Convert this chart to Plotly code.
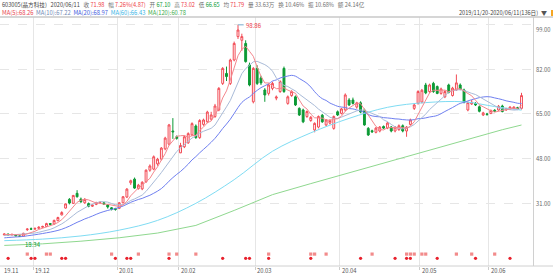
import plotly.graph_objects as go
import pandas as pd

# ---------------- data ----------------
opens = [19.0,19.3,19.0,19.1,18.6,18.5,21.0,21.3,21.2,21.5,21.9,22.2,23.3,23.1,24.4,26.6,29.2,32.5,31.0,34.8,
         32.6,31.2,30.9,29.9,30.6,31.2,31.2,30.4,29.3,29.0,
         29.1,31.2,33.4,38.8,40.2,36.6,36.5,39.2,43.6,44.0,46.0,47.8,51.7,53.5,58.5,56.3,
         50.2,52.5,54.0,57.0,60.4,56.0,61.0,62.0,63.0,64.0,66.5,76.6,80.4,76.6,85.5,94.4,93.0,91.8,83.6,69.6,
         82.3,78.7,74.1,72.8,74.7,71.0,73.5,82.3,69.0,72.0,71.5,67.1,66.5,64.0,62.5,58.9,60.0,64.5,60.8,61.5,59.5,65.8,
         65.2,66.5,70.3,70.3,67.6,69.2,66.5,59.5,58.6,58.0,58.5,60.2,59.6,60.0,58.5,59.0,60.5,58.5,61.0,67.1,69.0,
         69.5,76.0,73.5,76.6,75.4,72.8,71.5,76.0,72.0,74.1,76.0,74.1,66.5,68.8,69.0,67.7,64.6,65.0,
         65.2,66.4,66.5,68.0,66.5,66.9,67.0,67.4,67.10]
highs = [19.6,19.5,19.4,19.2,18.8,19.8,21.56,21.8,21.9,22.3,22.5,23.6,23.5,24.8,25.9,28.0,30.9,33.0,34.2,36.0,
         33.2,33.0,31.3,30.6,31.6,31.8,31.5,30.6,29.6,29.3,
         31.5,33.8,36.8,40.0,40.8,38.4,39.4,43.9,45.8,49.2,48.3,52.4,56.3,61.2,63.4,56.8,
         54.0,56.8,58.0,61.8,61.0,63.0,63.2,66.2,65.8,68.8,75.2,82.8,83.0,86.0,92.5,98.86,95.5,93.0,84.5,82.8,
         83.5,79.5,74.8,76.5,77.2,72.0,77.8,83.0,72.0,74.0,72.0,67.5,67.0,66.3,64.2,61.8,64.4,65.0,63.0,63.0,64.4,66.3,
         67.3,72.8,71.0,71.2,69.6,69.8,67.0,60.0,59.0,60.0,60.4,60.6,62.0,60.4,60.4,61.0,61.0,60.4,63.2,68.9,74.0,
         74.5,76.8,76.5,77.2,75.8,75.0,74.0,76.5,75.3,80.0,76.6,74.6,69.8,70.3,69.5,68.2,65.8,65.4,
         66.7,66.8,68.4,68.5,67.3,67.9,67.9,67.7,73.02]
lows = [18.8,18.9,18.8,18.5,18.34,18.4,20.5,20.9,21.0,21.2,21.7,22.0,22.7,22.9,24.2,26.4,29.0,30.6,30.8,33.2,
        31.2,30.8,29.5,29.6,30.3,30.9,30.4,29.0,28.3,28.2,
        28.8,31.0,33.0,38.0,36.5,36.2,36.0,38.8,43.0,43.6,45.3,47.3,51.2,53.0,55.5,55.2,
        50.1,52.0,53.6,56.5,55.5,55.5,60.5,61.5,62.5,63.5,66.0,76.0,77.5,76.0,85.0,93.5,89.0,84.5,75.5,69.0,
        76.0,76.0,69.6,72.0,74.0,70.2,73.0,73.0,68.5,71.5,68.0,64.2,61.5,63.5,62.0,58.0,59.5,61.6,60.3,61.0,59.0,64.2,
        64.8,66.0,68.0,68.6,67.0,65.3,60.5,56.6,57.8,57.6,58.0,59.2,59.2,58.0,58.0,58.6,58.0,56.3,60.6,66.5,68.5,
        69.0,72.5,73.0,73.0,72.5,72.3,71.0,72.8,71.6,73.8,74.0,69.0,66.0,68.4,68.0,65.6,64.2,64.3,
        64.9,65.7,66.2,65.6,66.2,66.6,66.8,66.9,66.65]
closes = [19.3,19.0,19.2,18.6,18.5,19.6,21.2,21.2,21.4,21.9,22.2,23.3,23.0,24.5,25.6,27.5,30.8,31.1,34.0,33.5,
          31.6,32.5,29.9,30.3,31.2,31.3,30.7,29.6,28.8,28.7,
          31.2,33.5,36.4,39.6,36.8,37.9,39.0,43.6,45.2,48.7,47.8,52.0,55.8,60.8,58.2,55.7,
          53.0,56.3,57.5,61.3,56.0,62.5,62.7,65.7,64.6,68.0,74.7,82.3,79.2,85.5,91.8,96.9,94.4,84.9,76.0,82.3,
          76.6,76.8,72.2,76.0,76.6,71.4,77.3,73.5,71.5,73.5,68.4,64.6,62.0,65.9,63.7,61.4,64.0,62.0,62.7,62.5,64.0,64.6,
          66.9,72.2,68.4,69.0,69.2,65.7,60.8,57.0,58.2,59.6,60.0,59.6,61.5,58.5,60.0,60.5,58.5,60.0,62.7,68.4,73.5,
          74.0,73.0,76.0,73.5,72.8,74.5,73.5,73.2,74.8,76.8,74.5,69.4,69.3,69.4,68.4,66.0,65.4,64.8,
          66.3,66.0,67.9,65.9,67.0,67.6,67.6,67.11,71.98]
# closes of the 19 sessions before 2019/11/20 (needed for MA5/10/20 at the left edge)
pre_closes = [16.6,16.8,16.7,16.9,17.0,16.8,17.1,17.3,17.2,17.5,17.8,18.0,18.3,18.6,18.9,19.2,19.0,19.4,19.1]

ma60_idx = [0, 10, 20, 30, 40, 50, 60, 70, 80, 90, 100, 110, 120, 128, 135]
ma60_val = [16.8, 17.4, 18.6, 20.8, 24.5, 31.0, 40.0, 50.8, 57.8, 63.3, 67.5, 69.3, 69.6, 67.8, 66.43]
ma120_idx = [0, 10, 20, 30, 40, 50, 60, 70, 80, 90, 100, 110, 120, 130, 135]
ma120_val = [15.0, 15.6, 16.6, 17.9, 19.7, 22.6, 28.3, 34.3, 38.5, 42.6, 46.8, 51.0, 55.0, 59.0, 60.78]

month_idx = [0, 8, 30, 46, 66, 88, 109, 127]
month_labels = ["19.11", "19.12", "20.01", "20.02", "20.03", "20.04", "20.05", "20.06"]

sig_top_idx = [6, 11, 12, 28, 35, 43, 45, 50, 69, 80, 81, 84, 96, 105, 106, 107, 109, 110, 118, 122, 128]
sig_bot_idx = [1, 7, 8, 15, 16, 29, 32, 33, 43, 57, 63, 64, 69, 80, 93, 102, 105, 106, 113, 123, 132]

y_ticks = [31, 48, 65, 82, 99]
y_tick_labels = ["31.00", "48.00", "65.00", "82.00", "99.00"]

header_items = [("603005(晶方科技)", "name"), ("2020/06/11", "name"),
                ("收", "lab"), ("71.98", "up"), ("幅", "lab"), ("7.26%(4.87)", "up"),
                ("开", "lab"), ("67.10", "dn"), ("高", "lab"), ("73.02", "up"),
                ("低", "lab"), ("66.65", "dn"), ("均", "lab"), ("71.79", "up"),
                ("量", "lab"), ("33.63万", "lab"), ("换", "lab"), ("10.46%", "lab"),
                ("振", "lab"), ("10.68%", "lab"), ("额", "lab"), ("24.14亿", "lab")]
ma_legend = ["MA(5):68.26", "MA(10):67.22", "MA(20):68.97", "MA(60):66.43", "MA(120):60.78"]
range_text = "2019/11/20-2020/06/11(136日)"

# ---------------- figure ----------------
n = len(closes)
x = list(range(n))
all_c = pd.Series(pre_closes + closes)
ma5 = all_c.rolling(5).mean().iloc[len(pre_closes):].tolist()
ma10 = all_c.rolling(10).mean().iloc[len(pre_closes):].tolist()
ma20 = all_c.rolling(20).mean().iloc[len(pre_closes):].tolist()

W, H = 553, 275
L_M, R_M, T_M, B_M = 0, 20, 17, 9
PW = W - L_M - R_M
PH = H - T_M - B_M

RED = "#ee3b46"
GRN = "#0c9a35"
GRAY = "#707070"
FONT = "Noto Sans CJK SC, sans-serif"

fig = go.Figure()
fig.add_trace(go.Scatter(x=ma120_idx, y=ma120_val, mode="lines", line=dict(color="#8fd88f", width=1), hoverinfo="skip"))
fig.add_trace(go.Scatter(x=ma60_idx, y=ma60_val, mode="lines", line=dict(color="#7fdcf3", width=1, shape="spline"), hoverinfo="skip"))
fig.add_trace(go.Scatter(x=x, y=ma20, mode="lines", line=dict(color="#6f7ff0", width=1, shape="spline"), hoverinfo="skip"))
fig.add_trace(go.Scatter(x=x, y=ma10, mode="lines", line=dict(color="#a9bbd8", width=1), hoverinfo="skip"))
fig.add_trace(go.Scatter(x=x, y=ma5, mode="lines", line=dict(color="#f4878d", width=1), hoverinfo="skip"))

fig.add_trace(go.Candlestick(
    x=x, open=opens, high=highs, low=lows, close=closes,
    increasing=dict(line=dict(color="#f24b55", width=1), fillcolor="rgba(255,255,255,1)"),
    decreasing=dict(line=dict(color=GRN, width=1), fillcolor=GRN),
    whiskerwidth=0, hoverinfo="skip"))

SIG_TOP_Y, SIG_BOT_Y = 11.7, 10.1
fig.add_trace(go.Scatter(x=sig_top_idx, y=[SIG_TOP_Y] * len(sig_top_idx), mode="markers",
                         marker=dict(symbol="square", size=3.2, color="#f28b8b"), hoverinfo="skip"))
fig.add_trace(go.Scatter(x=sig_bot_idx, y=[SIG_BOT_Y] * len(sig_bot_idx), mode="markers",
                         marker=dict(symbol="circle", size=3.2, color="#e8202c"), hoverinfo="skip"))

# high / low labels
hi_i = highs.index(max(highs))
lo_i = lows.index(min(lows))
fig.add_shape(type="line", x0=hi_i, x1=hi_i + 1.5, y0=max(highs), y1=max(highs), line=dict(color="#7fb3d5", width=1))
fig.add_annotation(x=hi_i + 1.5, y=max(highs), text=f"{max(highs):.2f}", showarrow=False, xanchor="left",
                   yanchor="middle", yshift=-1, font=dict(size=6, color=RED, family=FONT))
fig.add_annotation(x=lo_i + 0.8, y=min(lows), text=f"{min(lows):.2f}", showarrow=False, xanchor="left",
                   yanchor="top", yshift=-1, font=dict(size=6, color=GRN, family=FONT))

# y-axis labels
for v, t in zip(y_ticks, y_tick_labels):
    fig.add_annotation(xref="paper", x=1, y=v, text=t, showarrow=False, xanchor="left", xshift=1,
                       yanchor="middle", yshift=(-5 if v == max(y_ticks) else 0),
                       font=dict(size=5.8, color="#666", family=FONT))
# x-axis month labels
for m, t in zip(month_idx, month_labels):
    fig.add_annotation(x=m - 0.5, yref="paper", y=0, text=t, showarrow=False, xanchor="left", xshift=0,
                       yanchor="middle", yshift=-4.5, font=dict(size=5.8, color="#555", family=FONT))

# header rows
col = {"name": "#444", "lab": GRAY, "up": RED, "dn": GRN}
parts = []
for i, (t, k) in enumerate(header_items):
    sep = "" if i == 0 else ("&nbsp;" if k in ("up", "dn") or header_items[i - 1][0] in ("量", "换", "振", "额") else "&nbsp;&nbsp;&nbsp;")
    parts.append(sep + f'<span style="color:{col[k]}">{t}</span>')
fig.add_annotation(xref="paper", yref="paper", x=0, y=1 + (T_M - 5) / PH, text="".join(parts),
                   showarrow=False, xanchor="left", yanchor="middle", font=dict(size=5.6, color=GRAY, family=FONT))

ma_cols = ["#e8434d", "#7088b5", "#3e58dc", "#36b4e6", "#3daa4c"]
ma_text = "&nbsp;&nbsp;".join(f'<span style="color:{c}">{t}</span>' for t, c in zip(ma_legend, ma_cols))
fig.add_annotation(xref="paper", yref="paper", x=0, y=1 + (T_M - 12.5) / PH, text=ma_text,
                   showarrow=False, xanchor="left", yanchor="middle", font=dict(size=5.8, family=FONT))

fig.add_annotation(xref="paper", yref="paper", x=(W - 13) / PW, y=1 + (T_M - 12.5) / PH,
                   text=range_text, showarrow=False, xanchor="right", yanchor="middle",
                   font=dict(size=5.6, color="#444", family=FONT))
fig.add_annotation(xref="paper", yref="paper", x=(W - 4) / PW, y=1 + (T_M - 12.5) / PH,
                   text="▼", showarrow=False, xanchor="right", yanchor="middle",
                   font=dict(size=6, color="#555", family=FONT))
fig.add_shape(type="rect", xref="paper", yref="paper", x0=(W - 2) / PW, x1=W / PW,
              y0=1 + (T_M - 16) / PH, y1=1 + (T_M - 10) / PH, line=dict(width=0), fillcolor="#f5a623")

# frame lines
fig.add_shape(type="line", xref="paper", yref="paper", x0=0, x1=W / PW, y0=1, y1=1, line=dict(color="#c8c8c8", width=1.5))
fig.add_shape(type="line", xref="paper", yref="paper", x0=0, x1=W / PW, y0=0, y1=0, line=dict(color="#d0d0d0", width=1))

fig.update_layout(
    width=W, height=H, margin=dict(l=L_M, r=R_M, t=T_M, b=B_M),
    paper_bgcolor="white", plot_bgcolor="white", showlegend=False,
    font=dict(family=FONT, size=6, color="#555"),
    xaxis=dict(range=[-1.12, 138.0], rangeslider=dict(visible=False), showticklabels=False,
               tickvals=[m - 0.5 for m in month_idx[1:]], showgrid=True, gridcolor="#e6e6e6", gridwidth=1,
               ticks="outside", ticklen=3, tickcolor="#ccc", zeroline=False, showline=False, fixedrange=True),
    yaxis=dict(range=[7.17, 101.85], side="right", tickvals=y_ticks, showticklabels=False,
               showgrid=True, gridcolor="#e6e6e6", griddash="dash", zeroline=False,
               showline=True, linecolor="#d0d0d0", linewidth=1, fixedrange=True),
)
fig.write_html("out.html")
